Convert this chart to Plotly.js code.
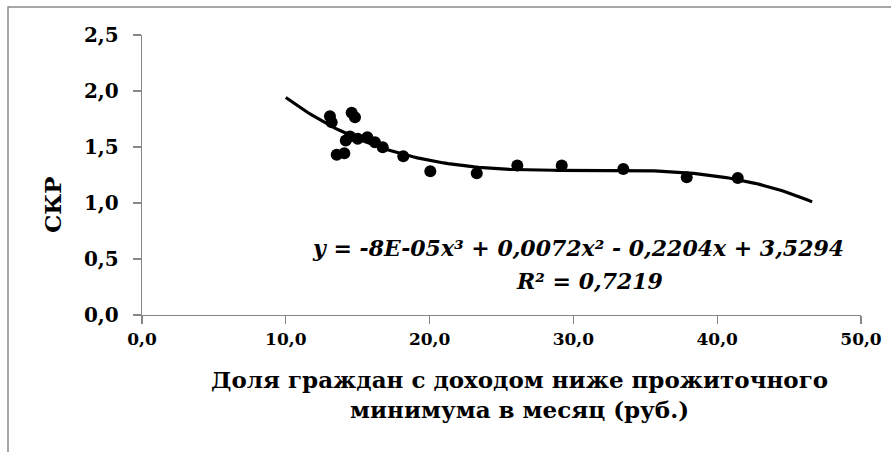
<!DOCTYPE html>
<html>
<head>
<meta charset="utf-8">
<script src="https://cdn.plot.ly/plotly-3.0.1.min.js"></script>
<style>
  html, body { margin: 0; padding: 0; background: #fff; }
  #chart { width: 891px; height: 452px; }
</style>
</head>
<body>
<div id="chart"></div>
<script>
// Data
const shareBelowMinimum = [13.07, 13.19, 14.58, 14.81, 14.17, 14.46, 15.00, 15.67, 16.20, 16.74, 13.54, 14.07, 18.17, 20.05, 23.28, 26.10, 29.19, 33.47, 37.88, 41.43];
const skrValues        = [1.775, 1.722, 1.806, 1.766, 1.558, 1.594, 1.573, 1.587, 1.543, 1.498, 1.430, 1.444, 1.417, 1.283, 1.265, 1.334, 1.334, 1.304, 1.229, 1.224];
const xTickValues = [0, 10, 20, 30, 40, 50];
const yTickValues = [0, 0.5, 1.0, 1.5, 2.0, 2.5];
const trendRange = [10, 46.6];
const equationText = "y = -8E-05x³ + 0,0072x² - 0,2204x + 3,5294";
const r2Text = "R² = 0,7219";
const xTitleText = "Доля граждан с доходом ниже прожиточного<br>минимума в месяц (руб.)";
const yTitleText = "СКР";

// Cubic least-squares trendline (as the spreadsheet computes it) from the data
function polyFit(xs, ys, deg) {
  const n = deg + 1;
  const A = Array.from({length: n}, () => new Array(n + 1).fill(0));
  for (let k = 0; k < xs.length; k++) {
    for (let i = 0; i < n; i++) {
      for (let j = 0; j < n; j++) A[i][j] += Math.pow(xs[k], i + j);
      A[i][n] += ys[k] * Math.pow(xs[k], i);
    }
  }
  for (let i = 0; i < n; i++) {
    let p = i;
    for (let r = i + 1; r < n; r++) if (Math.abs(A[r][i]) > Math.abs(A[p][i])) p = r;
    [A[i], A[p]] = [A[p], A[i]];
    for (let r = 0; r < n; r++) {
      if (r === i) continue;
      const f = A[r][i] / A[i][i];
      for (let c = i; c <= n; c++) A[r][c] -= f * A[i][c];
    }
  }
  return A.map((row, i) => row[n] / row[i]);
}
const coef = polyFit(shareBelowMinimum, skrValues, 3);
const trendX = [], trendY = [];
for (let i = 0; i <= 120; i++) {
  const x = trendRange[0] + (trendRange[1] - trendRange[0]) * i / 120;
  trendX.push(x);
  trendY.push(coef[0] + coef[1]*x + coef[2]*x*x + coef[3]*x*x*x);
}

const font = "DejaVu Serif";

const traces = [
  {
    x: trendX, y: trendY, type: "scatter", mode: "lines",
    line: { color: "#000", width: 3.2 }, hoverinfo: "skip", showlegend: false
  },
  {
    x: shareBelowMinimum, y: skrValues, type: "scatter", mode: "markers",
    marker: { color: "#000", size: 12 }, showlegend: false
  }
];

const layout = {
  width: 891, height: 452,
  margin: { l: 142, r: 30, t: 35, b: 137 },
  paper_bgcolor: "#fff", plot_bgcolor: "#fff",
  separators: ", ",
  showlegend: false,
  font: { family: font },
  xaxis: {
    range: [0, 50], tickvals: xTickValues, tickformat: ".1f",
    showgrid: false, zeroline: false,
    showline: true, linecolor: "#868686", linewidth: 1.3,
    ticks: "outside", ticklen: 8, tickcolor: "#868686", tickwidth: 1.3,
    tickfont: { family: font, size: 17, color: "#000", weight: "bold" },
    ticklabelstandoff: 0,
    fixedrange: true
  },
  yaxis: {
    range: [0, 2.5], tickvals: yTickValues, tickformat: ".1f",
    showgrid: false, zeroline: false,
    showline: true, linecolor: "#868686", linewidth: 1.3,
    ticks: "outside", ticklen: 8, tickcolor: "#868686", tickwidth: 1.3,
    tickfont: { family: font, size: 20, color: "#000", weight: "bold" },
    ticklabelstandoff: 10,
    fixedrange: true
  },
  shapes: [
    { type: "rect", xref: "paper", yref: "paper",
      x0: (8 - 142) / 719, x1: 1.3, y0: -0.7, y1: (315 - 7) / 280,
      line: { color: "#8a8a8a", width: 1.5 }, fillcolor: "rgba(0,0,0,0)", layer: "below" }
  ],
  annotations: [
    { xref: "paper", yref: "paper", x: (578 - 142) / 719, y: (315 - 248) / 280,
      text: equationText, showarrow: false, xanchor: "center", yanchor: "middle",
      font: { family: font, size: 22, color: "#000", weight: "bold", style: "italic" } },
    { xref: "paper", yref: "paper", x: (589 - 142) / 719, y: (315 - 281) / 280,
      text: r2Text, showarrow: false, xanchor: "center", yanchor: "middle",
      font: { family: font, size: 22, color: "#000", weight: "bold", style: "italic" } },
    { xref: "paper", yref: "paper", x: (519 - 142) / 719, y: (315 - 395) / 280,
      text: xTitleText, showarrow: false, xanchor: "center", yanchor: "middle",
      font: { family: font, size: 23, color: "#000", weight: "bold" } },
    { xref: "paper", yref: "paper", x: (52 - 142) / 719, y: (315 - 205) / 280,
      text: yTitleText, showarrow: false, textangle: -90, xanchor: "center", yanchor: "middle",
      font: { family: font, size: 23, color: "#000", weight: "bold" } }
  ]
};

Plotly.newPlot("chart", traces, layout, { staticPlot: true, displayModeBar: false });
</script>
</body>
</html>
